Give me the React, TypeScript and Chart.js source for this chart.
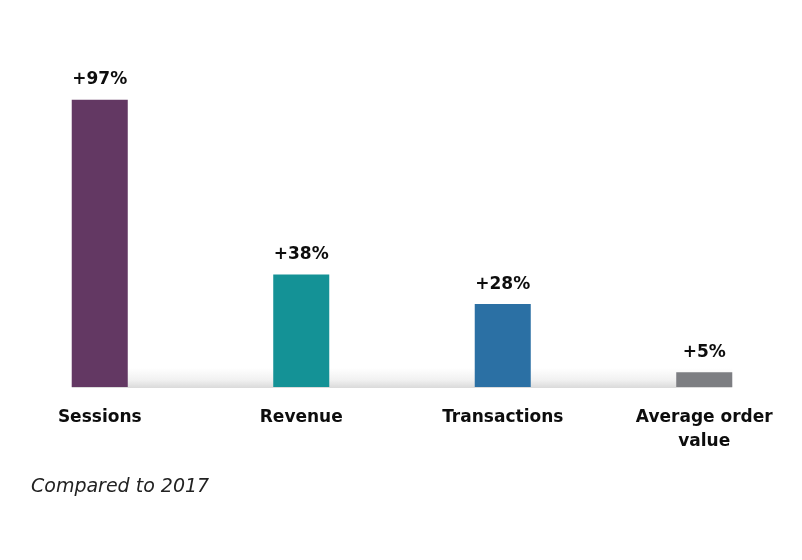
import React, { useEffect, useRef } from "react";
import { Chart, registerables } from "chart.js";

Chart.register(...registerables);

const categories: (string | string[])[] = ["Sessions", "Revenue", "Transactions", ["Average order", "value"]];
const values: number[] = [97, 38, 28, 5];
const valueLabels: string[] = ["+97%", "+38%", "+28%", "+5%"];
const barColors: string[] = ["#633863", "#149296", "#2B70A4", "#7D7E82"];
const caption = "Compared to 2017";

const FONT = "'DejaVu Sans', 'Open Sans', sans-serif";

const decorPlugin = {
  id: "decor",
  beforeDatasetsDraw(chart: any) {
    const ctx = chart.ctx;
    const meta = chart.getDatasetMeta(0);
    const first = meta.data[0];
    const last = meta.data[meta.data.length - 1];
    const bottom = chart.chartArea.bottom;
    const x0 = first.x - first.width / 2;
    const x1 = last.x + last.width / 2;
    const top = bottom - 19;
    ctx.save();
    const g = ctx.createLinearGradient(0, top, 0, bottom + 1);
    g.addColorStop(0, "#ffffff");
    g.addColorStop(0.6, "#f1f1f1");
    g.addColorStop(1, "#dadada");
    ctx.fillStyle = g;
    ctx.fillRect(x0, top, x1 - x0, bottom + 1 - top);
    ctx.restore();
  },
  afterDatasetsDraw(chart: any) {
    const ctx = chart.ctx;
    const meta = chart.getDatasetMeta(0);
    ctx.save();
    ctx.fillStyle = "#0d0d0d";
    ctx.font = `bold 17px ${FONT}`;
    ctx.textAlign = "center";
    ctx.textBaseline = "middle";
    meta.data.forEach((bar: any, i: number) => {
      ctx.fillText(valueLabels[i], bar.x, bar.y - 20);
    });
    ctx.font = `oblique 19px ${FONT}`;
    ctx.fillStyle = "#222222";
    ctx.textAlign = "left";
    ctx.fillText(caption, 32, 487);
    ctx.restore();
  },
};

export default function App() {
  const ref = useRef<HTMLCanvasElement>(null);
  useEffect(() => {
    if (!ref.current) return;
    const chart = new Chart(ref.current, {
      type: "bar",
      data: {
        labels: categories,
        datasets: [
          {
            data: values,
            backgroundColor: barColors,
            borderWidth: 0,
            barPercentage: 0.278,
            categoryPercentage: 1,
          },
        ],
      },
      options: {
        responsive: false,
        animation: false,
        layout: { padding: 0 },
        plugins: { legend: { display: false }, tooltip: { enabled: false }, title: { display: false } },
        scales: {
          x: {
            grid: { display: false, drawTicks: false },
            border: { display: false },
            ticks: {
              color: "#0d0d0d",
              padding: 19,
              font: { family: FONT, size: 17, weight: "bold", lineHeight: 1.41 },
              maxRotation: 0,
              autoSkip: false,
            },
            afterFit: (scale: any) => {
              scale.height = 173;
            },
          },
          y: { display: false, min: 0, max: 130.7 },
        },
      },
      plugins: [decorPlugin],
    });
    return () => chart.destroy();
  }, []);
  return (
    <div style={{ position: "absolute", left: 0, top: 0, width: 802, height: 560, overflow: "hidden", background: "#fff" }}>
      <canvas ref={ref} width={806} height={560} style={{ display: "block", position: "absolute", left: -1, top: 0 }} />
    </div>
  );
}
